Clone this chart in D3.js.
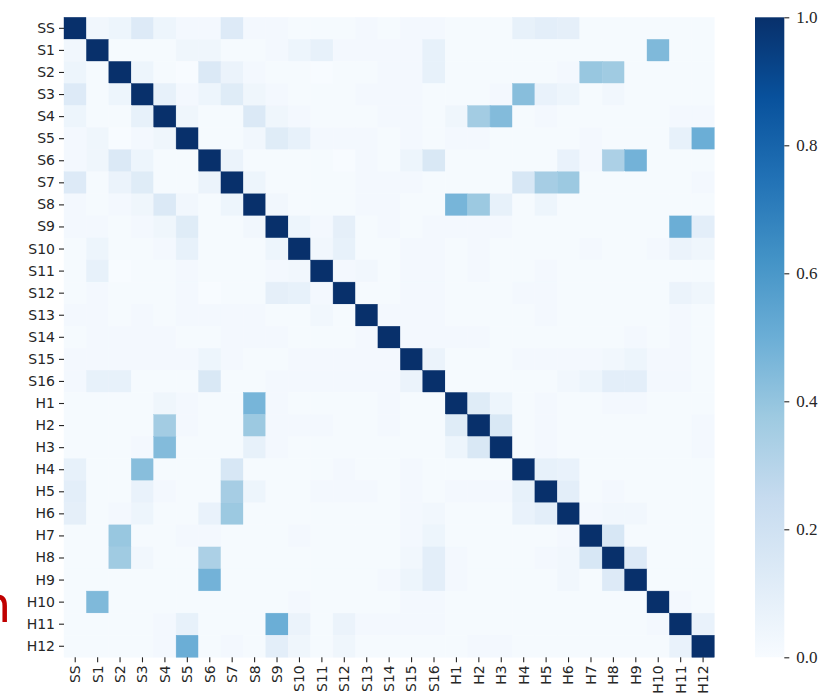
<!DOCTYPE html>
<html>
<head>
<meta charset="utf-8">
<script src="https://cdn.jsdelivr.net/npm/d3@7"></script>
<style>
  html, body { margin: 0; padding: 0; background: #ffffff; }
  svg { display: block; }
</style>
</head>
<body>
<svg id="chart" width="835" height="697"></svg>
<script>
// Feature labels: the SS group, sixteen S-features and twelve H-features
const labels = ["SS", "S1", "S2", "S3", "S4", "S5", "S6", "S7", "S8", "S9", "S10", "S11", "S12", "S13", "S14", "S15", "S16",
  "H1", "H2", "H3", "H4", "H5", "H6", "H7", "H8", "H9", "H10", "H11", "H12"];

// Pairwise correlation matrix, one row per feature (same order as labels)
const corr = [
  [1, .03, .05, .13, .05, .02, .02, .13, .02, .02, .01, .01, .01, .02, .01, .02, .02, .01, .01, .01, .08, .10, .09, .01, .01, .01, .01, .01, .01],
  [.03, 1, .01, .01, .01, .04, .04, .01, .01, .02, .05, .08, .02, .02, .02, .02, .08, .01, .01, .01, .01, .01, .01, .01, .01, .01, .45, .01, .01],
  [.05, .01, 1, .05, .01, .00, .14, .06, .02, .01, .01, .00, .01, .01, .02, .02, .08, .01, .01, .01, .01, .01, .02, .39, .37, .01, .01, .01, .01],
  [.13, .01, .05, 1, .08, .02, .05, .12, .04, .02, .01, .01, .01, .02, .02, .02, .01, .01, .01, .02, .43, .07, .05, .01, .03, .01, .01, .01, .01],
  [.05, .01, .01, .08, 1, .04, .01, .01, .14, .04, .02, .01, .01, .01, .02, .02, .01, .04, .36, .44, .01, .02, .01, .01, .01, .01, .01, .02, .02],
  [.02, .04, .00, .02, .04, 1, .01, .01, .03, .12, .08, .02, .02, .02, .01, .02, .01, .02, .02, .01, .01, .01, .01, .02, .01, .01, .01, .08, .50],
  [.02, .04, .14, .05, .01, .01, 1, .06, .01, .01, .01, .01, .00, .02, .01, .05, .15, .01, .01, .01, .01, .01, .07, .02, .33, .48, .01, .01, .01],
  [.13, .01, .06, .12, .01, .01, .06, 1, .05, .01, .01, .01, .01, .02, .02, .02, .01, .01, .01, .01, .16, .35, .38, .01, .01, .01, .01, .01, .02],
  [.02, .01, .02, .04, .14, .03, .01, .05, 1, .03, .01, .01, .01, .02, .02, .01, .01, .47, .38, .08, .01, .05, .01, .01, .01, .01, .01, .01, .01],
  [.02, .02, .01, .02, .04, .12, .01, .01, .03, 1, .05, .02, .09, .01, .02, .01, .02, .02, .02, .02, .01, .01, .01, .01, .01, .01, .01, .50, .10],
  [.01, .05, .01, .01, .02, .08, .01, .01, .01, .05, 1, .03, .08, .01, .01, .02, .02, .01, .02, .01, .01, .01, .01, .02, .01, .01, .02, .06, .04],
  [.01, .08, .00, .01, .01, .02, .01, .01, .01, .02, .03, 1, .02, .03, .01, .02, .02, .01, .02, .01, .01, .02, .01, .01, .01, .01, .01, .01, .01],
  [.01, .02, .01, .01, .01, .02, .00, .01, .01, .09, .08, .02, 1, .01, .01, .02, .02, .01, .01, .01, .02, .02, .01, .01, .01, .01, .01, .06, .04],
  [.02, .02, .01, .02, .01, .02, .02, .02, .02, .01, .01, .03, .01, 1, .02, .02, .02, .01, .01, .01, .01, .02, .01, .01, .01, .01, .01, .02, .01],
  [.01, .02, .02, .02, .02, .01, .01, .02, .02, .02, .01, .01, .01, .02, 1, .02, .02, .02, .02, .01, .01, .01, .01, .01, .01, .02, .01, .02, .01],
  [.02, .02, .02, .02, .02, .02, .05, .02, .01, .01, .02, .02, .02, .02, .02, 1, .06, .01, .01, .01, .02, .02, .02, .02, .03, .05, .02, .02, .01],
  [.02, .08, .08, .01, .01, .01, .15, .01, .01, .02, .02, .02, .02, .02, .02, .06, 1, .01, .01, .01, .01, .01, .03, .05, .10, .10, .02, .02, .01],
  [.01, .01, .01, .01, .04, .02, .01, .01, .47, .02, .01, .01, .01, .01, .02, .01, .01, 1, .12, .05, .01, .02, .01, .01, .02, .02, .01, .01, .01],
  [.01, .01, .01, .01, .36, .02, .01, .01, .38, .02, .02, .02, .01, .01, .02, .01, .01, .12, 1, .15, .01, .02, .01, .01, .01, .01, .01, .01, .02],
  [.01, .01, .01, .02, .44, .01, .01, .01, .08, .02, .01, .01, .01, .01, .01, .01, .01, .05, .15, 1, .01, .02, .01, .01, .01, .01, .01, .01, .02],
  [.08, .01, .01, .43, .01, .01, .01, .16, .01, .01, .01, .01, .02, .01, .01, .02, .01, .01, .01, .01, 1, .08, .07, .01, .01, .01, .01, .01, .01],
  [.10, .01, .01, .07, .02, .01, .01, .35, .05, .01, .01, .02, .02, .02, .01, .02, .01, .02, .02, .02, .08, 1, .10, .01, .02, .01, .01, .01, .01],
  [.09, .01, .02, .05, .01, .01, .07, .38, .01, .01, .01, .01, .01, .01, .01, .02, .03, .01, .01, .01, .07, .10, 1, .02, .03, .03, .01, .01, .01],
  [.01, .01, .39, .01, .01, .02, .02, .01, .01, .01, .02, .01, .01, .01, .01, .02, .05, .01, .01, .01, .01, .01, .02, 1, .16, .01, .01, .01, .01],
  [.01, .01, .37, .03, .01, .01, .33, .01, .01, .01, .01, .01, .01, .01, .01, .03, .10, .02, .01, .01, .01, .02, .03, .16, 1, .13, .01, .01, .01],
  [.01, .01, .01, .01, .01, .01, .48, .01, .01, .01, .01, .01, .01, .01, .02, .05, .10, .02, .01, .01, .01, .01, .03, .01, .13, 1, .01, .01, .01],
  [.01, .45, .01, .01, .01, .01, .01, .01, .01, .01, .02, .01, .01, .01, .01, .02, .02, .01, .01, .01, .01, .01, .01, .01, .01, .01, 1, .02, .01],
  [.01, .01, .01, .01, .02, .08, .01, .01, .01, .50, .06, .01, .06, .02, .02, .02, .02, .01, .01, .01, .01, .01, .01, .01, .01, .01, .02, 1, .07],
  [.01, .01, .01, .01, .02, .50, .01, .02, .01, .10, .04, .01, .04, .01, .01, .01, .01, .01, .02, .02, .01, .01, .01, .01, .01, .01, .01, .07, 1]
];

// Colour bar tick values
const barTicks = [0.0, 0.2, 0.4, 0.6, 0.8, 1.0];

// Sequential blue ramp (nine anchor colours, linear between them)
const bluesAnchors = ["#f7fbff", "#deebf7", "#c6dbef", "#9ecae1", "#6baed6", "#4292c6", "#2171b5", "#08519c", "#08306b"];

const svg = d3.select("#chart");
const grid = { left: 64, top: 17.3, right: 714.3, bottom: 657.3 };
const bar = { left: 755, right: 784.3 };
const ink = "#262626";
const sans = "'DejaVu Sans', sans-serif";
const serif = "'Liberation Serif', serif";

const color = d3.scaleLinear()
  .domain(bluesAnchors.map((_, i) => i / (bluesAnchors.length - 1)))
  .range(bluesAnchors)
  .interpolate(d3.interpolateRgb)
  .clamp(true);

const x = d3.scaleBand().domain(labels).range([grid.left, grid.right]).padding(0);
const y = d3.scaleBand().domain(labels).range([grid.top, grid.bottom]).padding(0);

// Heatmap cells
const cells = [];
corr.forEach((row, i) => row.forEach((v, j) => cells.push({ r: labels[i], c: labels[j], v })));

svg.append("g")
  .selectAll("rect")
  .data(cells)
  .join("rect")
  .attr("x", d => x(d.c))
  .attr("y", d => y(d.r))
  .attr("width", x.bandwidth())
  .attr("height", y.bandwidth())
  .attr("fill", d => color(d.v))
  .attr("stroke", d => color(d.v))
  .attr("stroke-width", 0.4);

// Left axis (row labels)
const yAxis = svg.append("g")
  .attr("transform", `translate(${grid.left},0)`)
  .call(d3.axisLeft(y).tickSize(5).tickPadding(4));
yAxis.select(".domain").remove();
yAxis.selectAll("line").attr("stroke", ink).attr("stroke-width", 1.1);
yAxis.selectAll("text")
  .attr("fill", ink)
  .style("font-family", sans)
  .style("font-size", "14px");

// Bottom axis (column labels, rotated)
const xAxis = svg.append("g")
  .attr("transform", `translate(0,${grid.bottom})`)
  .call(d3.axisBottom(x).tickSize(5).tickPadding(4));
xAxis.select(".domain").remove();
xAxis.selectAll("line").attr("stroke", ink).attr("stroke-width", 1.1);
xAxis.selectAll("text")
  .attr("fill", ink)
  .style("font-family", sans)
  .style("font-size", "14px")
  .attr("text-anchor", "end")
  .attr("dy", "0.35em")
  .attr("y", 0)
  .attr("x", 0)
  .attr("transform", "translate(0,8) rotate(-90)");

// Colour bar
const defs = svg.append("defs");
const grad = defs.append("linearGradient")
  .attr("id", "bluesGrad")
  .attr("x1", 0).attr("y1", 1).attr("x2", 0).attr("y2", 0);
bluesAnchors.forEach((c, i) => {
  grad.append("stop")
    .attr("offset", i / (bluesAnchors.length - 1))
    .attr("stop-color", c);
});

const cb = d3.scaleLinear().domain([0, 1]).range([grid.bottom, grid.top]);
svg.append("rect")
  .attr("x", bar.left)
  .attr("y", cb(1))
  .attr("width", bar.right - bar.left)
  .attr("height", cb(0) - cb(1))
  .attr("fill", "url(#bluesGrad)");

const cbAxis = svg.append("g")
  .attr("transform", `translate(${bar.right},0)`)
  .call(d3.axisRight(cb).tickValues(barTicks).tickFormat(d3.format(".1f")).tickSize(5).tickPadding(7));
cbAxis.select(".domain").remove();
cbAxis.selectAll("line").attr("stroke", ink).attr("stroke-width", 1.1);
cbAxis.selectAll("text")
  .attr("fill", ink)
  .style("font-family", serif)
  .style("font-size", "17px");

// Red letter at the left margin
svg.append("text")
  .attr("x", -20.5)
  .attr("y", 622)
  .attr("fill", "#c00000")
  .style("font-family", sans)
  .style("font-size", "50px")
  .text("n");
</script>
</body>
</html>
